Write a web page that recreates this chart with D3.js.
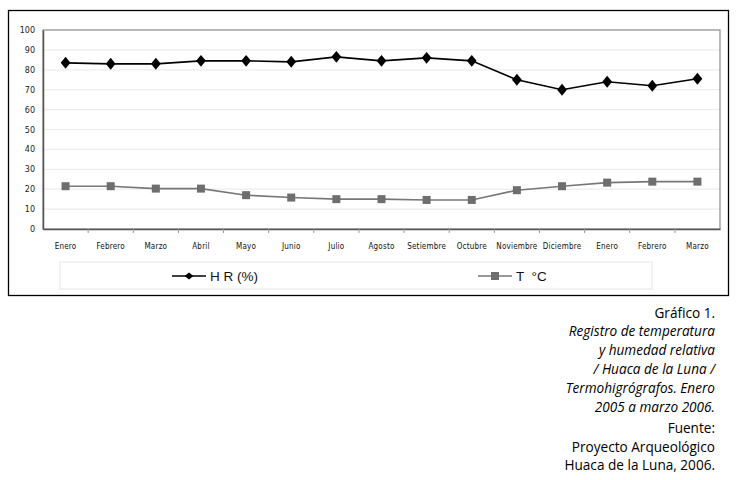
<!DOCTYPE html>
<html>
<head>
<meta charset="utf-8">
<script src="https://cdn.jsdelivr.net/npm/d3@7"></script>
<style>
  body { margin: 0; background: #fff; }
  svg { display: block; }
</style>
</head>
<body>
<script>
;(() => {
    var width = 737, height = 480;

    // data
    var months = ['Enero', 'Febrero', 'Marzo', 'Abril', 'Mayo', 'Junio', 'Julio', 'Agosto',
        'Setiembre', 'Octubre', 'Noviembre', 'Diciembre', 'Enero', 'Febrero', 'Marzo'];
    var hr = [83.5, 83, 83, 84.5, 84.5, 84, 86.5, 84.5, 86, 84.5, 75, 70, 74, 72, 75.5];
    var temp = [21.5, 21.5, 20.3, 20.3, 17, 15.8, 15, 15, 14.6, 14.6, 19.5, 21.5, 23.3, 23.8, 23.8];
    var yTicks = [0, 10, 20, 30, 40, 50, 60, 70, 80, 90, 100];
    var seriesNames = ['H R (%)', 'T  °C'];
    var caption = [
        { text: 'Gráfico 1.', italic: false },
        { text: 'Registro de temperatura', italic: true },
        { text: 'y humedad relativa', italic: true },
        { text: '/ Huaca de la Luna /', italic: true },
        { text: 'Termohigrógrafos. Enero', italic: true },
        { text: '2005 a marzo 2006.', italic: true },
        { text: 'Fuente:', italic: false, gap: true },
        { text: 'Proyecto Arqueológico', italic: false },
        { text: 'Huaca de la Luna, 2006.', italic: false }
    ];

    var plot = { left: 43, top: 30, right: 720, bottom: 229 };

    var svg = d3.select('body')
        .append('svg')
        .attr('width', width)
        .attr('height', height);

    // outer frame
    svg.append('rect')
        .attr('x', 8.5).attr('y', 10.5)
        .attr('width', 720).attr('height', 285)
        .attr('fill', 'none')
        .attr('stroke', '#000')
        .attr('stroke-width', 1.3);

    var x = d3.scaleBand().domain(d3.range(months.length))
        .range([plot.left, plot.right]);
    var y = d3.scaleLinear().domain([0, 100]).range([plot.bottom, plot.top]);
    var cx = i => x(i) + x.bandwidth() / 2;

    // gridlines
    svg.append('g')
        .selectAll('line')
        .data(yTicks.filter(d => d > 0 && d < 100))
        .enter()
        .append('line')
        .attr('x1', plot.left).attr('x2', plot.right)
        .attr('y1', d => y(d)).attr('y2', d => y(d))
        .attr('stroke', '#ececec')
        .attr('stroke-width', 1.2);

    // plot border
    svg.append('rect')
        .attr('x', plot.left).attr('y', plot.top)
        .attr('width', plot.right - plot.left)
        .attr('height', plot.bottom - plot.top)
        .attr('fill', 'none')
        .attr('stroke', '#8a8a8a')
        .attr('stroke-width', 1.2);

    // y axis
    var yAxis = svg.append('g')
        .attr('transform', 'translate(' + plot.left + ',0)')
        .call(d3.axisLeft(y).tickValues(yTicks).tickSize(0).tickPadding(8));
    yAxis.select('.domain').attr('stroke', '#555').attr('stroke-width', 1.5);
    yAxis.selectAll('text')
        .attr('font-family', 'DejaVu Sans')
        .attr('font-size', 8)
        .attr('fill', '#222');

    // x axis
    var xAxis = svg.append('g')
        .attr('transform', 'translate(0,' + plot.bottom + ')')
        .call(d3.axisBottom(x).tickFormat(i => months[i]).tickSize(0).tickPadding(14));
    xAxis.select('.domain').attr('stroke', '#555').attr('stroke-width', 1.5);
    xAxis.selectAll('text')
        .attr('font-family', 'DejaVu Sans Condensed')
        .attr('font-size', 8)
        .attr('letter-spacing', 0.2)
        .attr('fill', '#111');
    // ticks between categories
    xAxis.selectAll('line.sep')
        .data(d3.range(1, months.length))
        .enter()
        .append('line')
        .classed('sep', true)
        .attr('x1', i => x(i)).attr('x2', i => x(i))
        .attr('y1', 0).attr('y2', 4)
        .attr('stroke', '#999');

    var line = d3.line()
        .x((d, i) => cx(i))
        .y(d => y(d));

    // temperature
    svg.append('path')
        .attr('d', line(temp))
        .attr('fill', 'none')
        .attr('stroke', '#777')
        .attr('stroke-width', 1.6);
    svg.append('g')
        .selectAll('rect')
        .data(temp)
        .enter()
        .append('rect')
        .attr('x', (d, i) => cx(i) - 4)
        .attr('y', d => y(d) - 4)
        .attr('width', 8).attr('height', 8)
        .attr('fill', '#6e6e6e');

    // humidity
    var diamond = d3.symbol().type(d3.symbolDiamond2).size(75);
    svg.append('path')
        .attr('d', line(hr))
        .attr('fill', 'none')
        .attr('stroke', '#000')
        .attr('stroke-width', 1.6);
    svg.append('g')
        .selectAll('path')
        .data(hr)
        .enter()
        .append('path')
        .attr('d', diamond)
        .attr('transform', (d, i) => 'translate(' + cx(i) + ',' + y(d) + ') scale(0.9,1.1)')
        .attr('fill', '#000');

    // legend
    svg.append('rect')
        .attr('x', 60).attr('y', 262)
        .attr('width', 592).attr('height', 27)
        .attr('fill', '#fff')
        .attr('stroke', '#e6e6e6');
    var legend = [
        { x: 172, name: seriesNames[0], color: '#000', mark: 'diamond' },
        { x: 478, name: seriesNames[1], color: '#777', mark: 'square' }
    ];
    var lg = svg.append('g')
        .selectAll('g')
        .data(legend)
        .enter()
        .append('g')
        .attr('transform', d => 'translate(' + d.x + ',276)');
    lg.append('line')
        .attr('x1', 0).attr('x2', 34)
        .attr('stroke', d => d.color)
        .attr('stroke-width', 1.6);
    lg.filter(d => d.mark === 'diamond')
        .append('path')
        .attr('d', d3.symbol().type(d3.symbolDiamond2).size(40))
        .attr('transform', 'translate(17,0) scale(1.1,0.9)')
        .attr('fill', '#000');
    lg.filter(d => d.mark === 'square')
        .append('rect')
        .attr('x', 13).attr('y', -4)
        .attr('width', 8).attr('height', 8)
        .attr('fill', '#6e6e6e');
    lg.append('text')
        .attr('x', 38).attr('y', 5)
        .attr('font-family', 'Liberation Sans')
        .attr('font-size', 13.5)
        .attr('fill', '#111')
        .attr('xml:space', 'preserve')
        .text(d => d.name);

    // caption
    var cy = 317.5;
    caption.forEach(c => {
        if (c.gap) cy += 2.5;
        c.y = cy;
        cy += 18.8;
    });
    svg.append('g')
        .selectAll('text')
        .data(caption)
        .enter()
        .append('text')
        .attr('x', 715)
        .attr('y', d => d.y)
        .attr('text-anchor', 'end')
        .attr('font-family', 'Open Sans')
        .attr('font-size', 13.6)
        .attr('font-style', d => d.italic ? 'italic' : 'normal')
        .attr('fill', '#000')
        .text(d => d.text);
})();
</script>
</body>
</html>
